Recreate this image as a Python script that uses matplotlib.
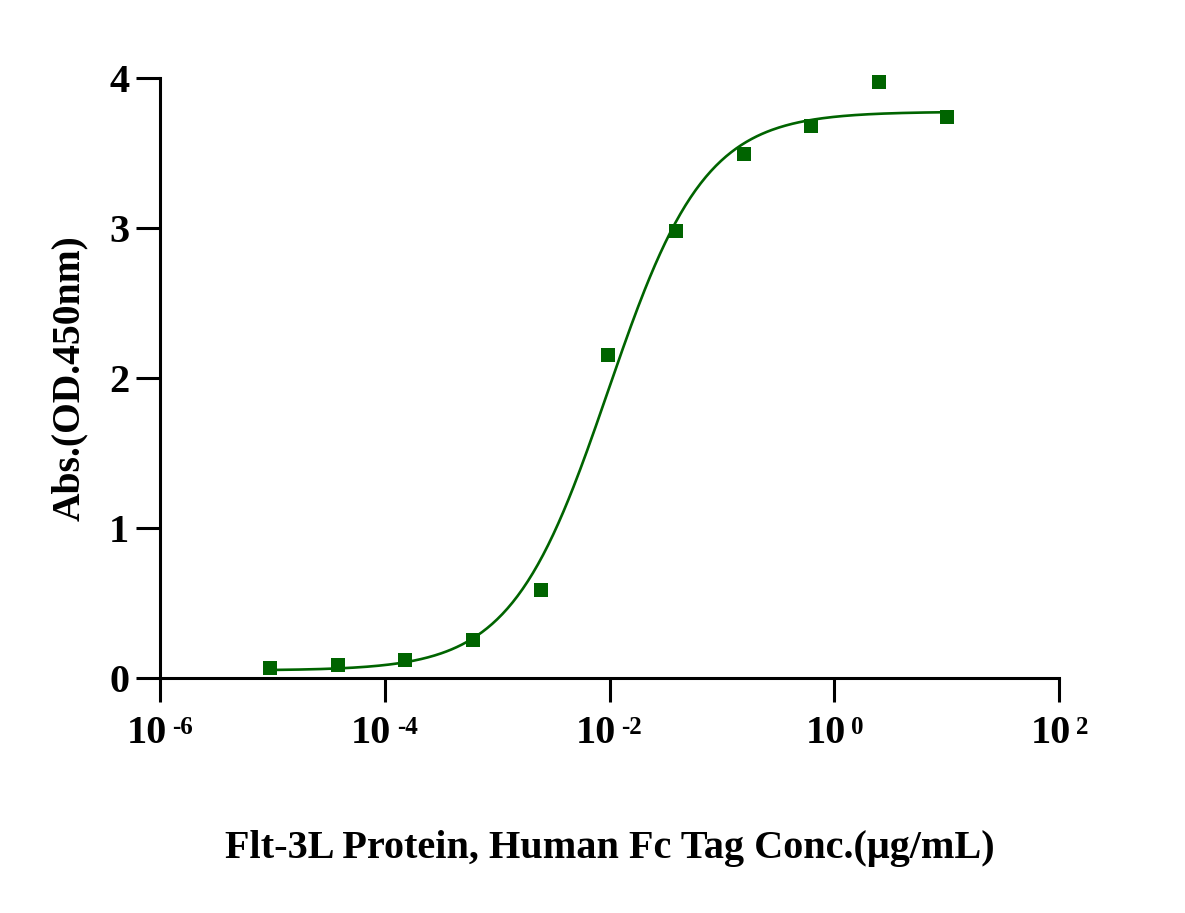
import numpy as np
import matplotlib.pyplot as plt

plt.rcParams['font.family'] = ['Liberation Serif', 'DejaVu Serif']
plt.rcParams['font.weight'] = 'bold'

# data (4-fold dilution series, ug/mL)
conc = [10, 2.5, 0.625, 0.15625, 0.0390625, 0.009765625, 0.00244140625,
        0.0006103515625, 0.000152587890625, 3.814697265625e-05, 9.5367431640625e-06]
od450 = [3.74, 3.97, 3.68, 3.49, 2.98, 2.15, 0.585, 0.251, 0.118, 0.087, 0.064]

# 4PL fit parameters (as drawn)
fit_bottom = 0.05
fit_top = 3.775
fit_ec50 = 0.0097
fit_hill = 1.01

tick_exps = [-6, -4, -2, 0, 2]
green = '#006400'

fig = plt.figure(figsize=(11.85, 9.13), dpi=100)
ax = fig.add_axes([0.135, 0.2574, 0.7587, 0.6572])

xs = np.logspace(np.log10(min(conc)), np.log10(max(conc)), 400)
ys = fit_bottom + (fit_top - fit_bottom) / (1 + (fit_ec50 / xs) ** fit_hill)
ax.plot(xs, ys, color=green, lw=1.9, zorder=2)
ax.plot(conc, od450, 's', color=green, ms=9.5, mew=0, zorder=3, clip_on=False)

ax.set_xscale('log')
ax.set_xlim(1e-6, 1e2)
ax.set_ylim(0, 4)
ax.set_yticks([0, 1, 2, 3, 4])
ax.set_xticks([10.0 ** e for e in tick_exps])
ax.minorticks_off()
ax.set_xticklabels([''] * len(tick_exps))
for lbl in ax.get_yticklabels():
    lbl.set_fontsize(29)
    lbl.set_fontweight('bold')

for side in ['top', 'right']:
    ax.spines[side].set_visible(False)
for side in ['left', 'bottom']:
    ax.spines[side].set_linewidth(2.2)
ax.tick_params(width=2.2, length=17)
ax.tick_params(axis='y', pad=5)

# x tick labels drawn as "10" + superscript
for e in tick_exps:
    sup = str(e)
    sup_w = 10 * len(sup)
    total = 37 + 7 + sup_w
    ax.annotate('10', xy=(10.0 ** e, 0), xycoords='data',
                xytext=(18.5 - total / 2, -56), textcoords='offset pixels',
                ha='center', va='center', fontsize=29, fontweight='bold')
    ax.annotate(sup, xy=(10.0 ** e, 0), xycoords='data',
                xytext=(37 + 7 - total / 2, -50), textcoords='offset pixels',
                ha='left', va='center', fontsize=18, fontweight='bold')

fig.text(610 / 1185, 1 - 848 / 913, 'Flt-3L Protein, Human Fc Tag Conc.(μg/mL)',
         ha='center', va='center', fontsize=29, fontweight='bold')
fig.text(70 / 1185, 1 - 378 / 913, 'Abs.(OD.450nm)', rotation=90,
         ha='center', va='center', fontsize=28.5, fontweight='bold')

plt.savefig('out.png', dpi=100)
